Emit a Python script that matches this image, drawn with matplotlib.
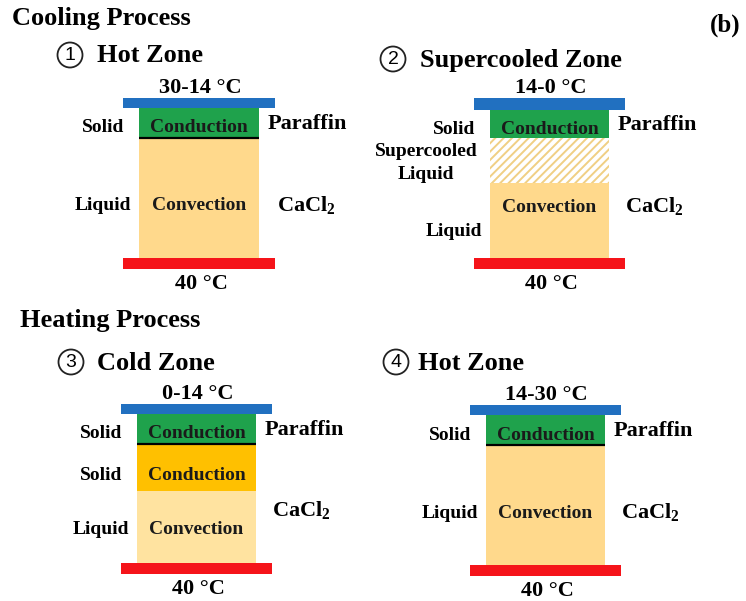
import matplotlib
matplotlib.use("Agg")
import matplotlib.pyplot as plt
from matplotlib.patches import Rectangle, Circle

plt.rcParams["font.family"] = ["Liberation Serif", "DejaVu Sans"]
plt.rcParams["font.weight"] = "bold"
plt.rcParams["hatch.linewidth"] = 1.4

BLUE = "#2170C0"
GREEN = "#1FA24C"
RED = "#F5141A"
YELLOW = "#FFD98C"
ORANGE = "#FFC000"
PALE = "#FFE3A0"
HATCH = "#F0CF84"

# section headings and panel titles
section_titles = ["Cooling Process", "Heating Process"]
zone_numbers = ["1", "2", "3", "4"]
zone_names = ["Hot Zone", "Supercooled Zone", "Cold Zone", "Hot Zone"]
top_temps = ["30-14 \u00b0C", "14-0 \u00b0C", "0-14 \u00b0C", "14-30 \u00b0C"]
bottom_temp = "40 \u00b0C"
cacl2 = r"CaCl$_{\mathregular{2}}$"

# layer stacks, top to bottom: (phase label, mechanism, style)
layers = [
    [("Solid", "Conduction", "green"), ("Liquid", "Convection", "yellow")],
    [("Solid", "Conduction", "green"), ("Supercooled\nLiquid", "", "hatch"),
     ("Liquid", "Convection", "yellow")],
    [("Solid", "Conduction", "green"), ("Solid", "Conduction", "orange"),
     ("Liquid", "Convection", "pale")],
    [("Solid", "Conduction", "green"), ("Liquid", "Convection", "yellow")],
]

# panel geometry in pixels
geom = [
    dict(x0=139, x1=259, plate_top=98, top=108, cuts=[138], bottom=258),
    dict(x0=490, x1=609, plate_top=98, top=110, cuts=[138, 183], bottom=258),
    dict(x0=137, x1=256, plate_top=404, top=414, cuts=[444, 491], bottom=563),
    dict(x0=486, x1=605, plate_top=405, top=415, cuts=[445], bottom=565),
]
# where the phase / mechanism labels sit (y), one per layer
phase_y = [[126, 204], [127, 161, 230], [432, 473, 528], [433, 511]]
mech_y = [[126, 204], [127, None, 205], [432, 473, 528], [433, 511]]
cacl_y = [204, 205, 509, 511]
cacl_x = [277, 625, 272, 621]
dy = 2  # va="center" sits a little high for these fonts

fills = {"green": GREEN, "yellow": YELLOW, "orange": ORANGE, "pale": PALE}

fig = plt.figure(figsize=(7.46, 6.01), dpi=100)
ax = fig.add_axes([0, 0, 1, 1])
ax.set_xlim(0, 746)
ax.set_ylim(601, 0)
ax.axis("off")

ax.text(12, 18, section_titles[0], fontsize=19, ha="left", va="center")
ax.text(20, 320, section_titles[1], fontsize=19, ha="left", va="center")
ax.text(725, 25, "(b)", fontsize=18, ha="center", va="center")

mark_pos = [(70, 55), (393, 59), (71, 362), (396, 362)]
name_left = [97, 420, 97, 418]

for i, g in enumerate(geom):
    mx, my = mark_pos[i]
    ax.add_patch(Circle((mx, my), 12.5, facecolor="none", edgecolor="#222222",
                        lw=1.3))
    ax.text(mx, my + 0.5, zone_numbers[i], fontsize=14, fontweight="normal",
            family="Liberation Sans", ha="center", va="center")
    ax.text(name_left[i], my + 1, zone_names[i], fontsize=19, ha="left",
            va="center")

    x0, x1 = g["x0"], g["x1"]
    w = x1 - x0
    cx = (x0 + x1) / 2
    ext = 16
    ys = [g["top"]] + g["cuts"] + [g["bottom"]]

    for k, (phase, mech, style) in enumerate(layers[i]):
        ya, yb = ys[k], ys[k + 1]
        if style == "hatch":
            ax.add_patch(Rectangle((x0, ya), w, yb - ya, facecolor="white",
                                   edgecolor=HATCH, hatch="////", lw=0))
        else:
            ax.add_patch(Rectangle((x0, ya), w, yb - ya,
                                   facecolor=fills[style], lw=0))
        if mech:
            ax.text(cx, mech_y[i][k] + dy, mech, fontsize=14, ha="center",
                    va="center", color="#1a1a1a")
        if style == "hatch":
            ax.text(x0 - 64, phase_y[i][k] + dy, phase, fontsize=14,
                    ha="center", va="center", linespacing=1.45)
        else:
            ax.text(x0 - 36, phase_y[i][k] + dy, phase, fontsize=14,
                    ha="center", va="center")

    # black line under the paraffin layer
    if i != 1:
        ax.plot([x0, x1], [g["cuts"][0], g["cuts"][0]], color="black",
                lw=1.6, solid_capstyle="butt")

    # cold plate and hot plate
    ax.add_patch(Rectangle((x0 - ext, g["plate_top"]), w + 2 * ext,
                           g["top"] - g["plate_top"], facecolor=BLUE, lw=0))
    ax.add_patch(Rectangle((x0 - ext, g["bottom"]), w + 2 * ext, 11,
                           facecolor=RED, lw=0))

    ax.text(cx + 1, g["plate_top"] - 10, top_temps[i], fontsize=16,
            ha="center", va="center")
    ax.text(cx + 2, g["bottom"] + 26, bottom_temp, fontsize=16,
            ha="center", va="center")

    ax.text(x1 + 9, (g["top"] + g["cuts"][0]) / 2 + 1, "Paraffin",
            fontsize=16, ha="left", va="center")
    ax.text(cacl_x[i], cacl_y[i] + dy, cacl2, fontsize=16, ha="left",
            va="center")

fig.savefig("out.png", dpi=100)
